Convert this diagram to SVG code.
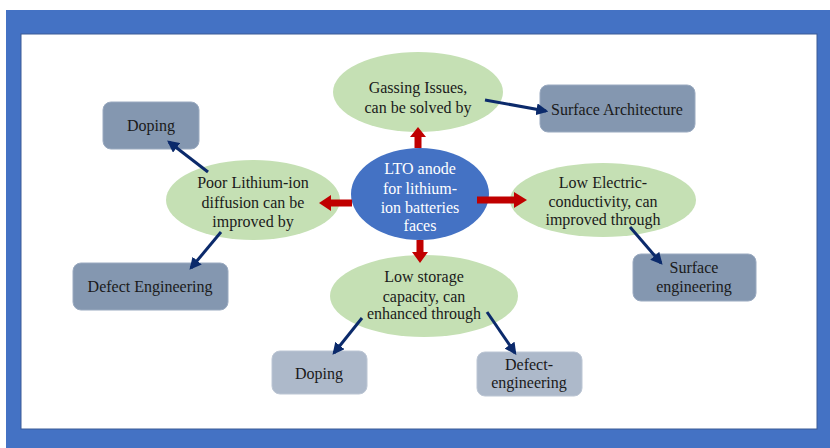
<svg xmlns="http://www.w3.org/2000/svg" width="830" height="448" viewBox="0 0 830 448">
<defs>
<style>
.t{font-family:"Liberation Serif","Times New Roman",serif;font-size:16px;fill:#1a1a1a;text-anchor:middle}
.w{fill:#ffffff}
.ell{fill:#C5E0B4}
.box{fill:#8497B0;stroke:#9aaac0;stroke-width:1}
.box2{fill:#ADB9CA;stroke:#bcc6d4;stroke-width:1}
.blue{stroke:#0B2A6B;stroke-width:3;fill:none;marker-end:url(#ah)}
.red{fill:#C00000}
</style>
<marker id="ah" viewBox="0 0 10 10" refX="8" refY="5" markerWidth="4" markerHeight="4" orient="auto" markerUnits="strokeWidth">
<path d="M0,0 L10,5 L0,10 z" fill="#0B2A6B"/>
</marker>
</defs>
<rect x="0" y="0" width="830" height="448" fill="#ffffff"/>
<rect x="6" y="10" width="824" height="438" fill="#4472C4"/>
<rect x="21" y="34" width="796" height="395" fill="#ffffff" stroke="#3A5A95" stroke-width="1"/>

<g id="center">
<ellipse cx="420" cy="194" rx="69" ry="46" fill="#4472C4"/>
<text class="t w" x="420" y="174">LTO anode</text>
<text class="t w" x="420" y="194">for lithium-</text>
<text class="t w" x="420" y="213">ion batteries</text>
<text class="t w" x="420" y="231">faces</text>
</g>

<g id="gassing">
<ellipse class="ell" cx="418" cy="92" rx="85" ry="40"/>
<text class="t" x="418" y="93">Gassing Issues,</text>
<text class="t" x="418" y="113">can be solved by</text>
</g>

<g id="surface-architecture">
<rect class="box" x="540" y="85" width="155" height="47" rx="8"/>
<text class="t" x="617" y="115">Surface Architecture</text>
</g>

<g id="poor-diffusion">
<ellipse class="ell" cx="253" cy="200" rx="87" ry="40"/>
<text class="t" x="253" y="188">Poor Lithium-ion</text>
<text class="t" x="253" y="208">diffusion can be</text>
<text class="t" x="253" y="227">improved by</text>
</g>

<g id="doping-top">
<rect class="box" x="103" y="102" width="96" height="47" rx="8"/>
<text class="t" x="151" y="131">Doping</text>
</g>

<g id="defect-engineering-left">
<rect class="box" x="73" y="263" width="155" height="47" rx="8"/>
<text class="t" x="150" y="292">Defect Engineering</text>
</g>

<g id="low-conductivity">
<ellipse class="ell" cx="603" cy="200" rx="93" ry="37"/>
<text class="t" x="603" y="188">Low Electric-</text>
<text class="t" x="603" y="207">conductivity, can</text>
<text class="t" x="603" y="225">improved through</text>
</g>

<g id="surface-engineering">
<rect class="box" x="633" y="254" width="123" height="47" rx="8"/>
<text class="t" x="694" y="273">Surface</text>
<text class="t" x="694" y="292">engineering</text>
</g>

<g id="low-storage">
<ellipse class="ell" cx="424" cy="296" rx="94" ry="41"/>
<text class="t" x="424" y="282">Low storage</text>
<text class="t" x="424" y="302">capacity, can</text>
<text class="t" x="424" y="319">enhanced through</text>
</g>

<g id="doping-bottom">
<rect class="box2" x="272" y="351" width="95" height="43" rx="8"/>
<text class="t" x="319" y="379">Doping</text>
</g>

<g id="defect-engineering-bottom">
<rect class="box2" x="477" y="352" width="105" height="44" rx="8"/>
<text class="t" x="529" y="370">Defect-</text>
<text class="t" x="529" y="388">engineering</text>
</g>

<g id="connectors">
<polygon class="red" points="414.5,148 421.5,148 421.5,137 426,137 418,127 410,137 414.5,137"/>
<polygon class="red" points="352,199.5 331,199.5 331,195 319,203 331,211 331,206.5 352,206.5"/>
<polygon class="red" points="477,196.5 514,196.5 514,192 527,200 514,208 514,203.5 477,203.5"/>
<polygon class="red" points="416.5,240 423.5,240 423.5,252 428,252 420,263 412,252 416.5,252"/>
<line class="blue" x1="485" y1="100" x2="546" y2="111"/>
<line class="blue" x1="208" y1="172" x2="169" y2="142"/>
<line class="blue" x1="221" y1="232" x2="191" y2="268"/>
<line class="blue" x1="630" y1="227" x2="661" y2="263"/>
<line class="blue" x1="362" y1="318" x2="334" y2="353"/>
<line class="blue" x1="487" y1="312" x2="515" y2="353"/>
</g>
</svg>
